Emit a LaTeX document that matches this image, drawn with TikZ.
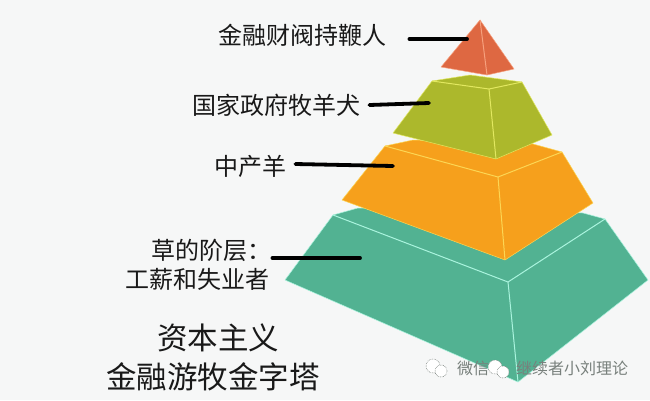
\documentclass[tikz,border=0pt]{standalone}
\usepackage{fontspec}
\setmainfont{Noto Sans CJK SC}
\definecolor{paperGrey}{RGB}{246,247,247}
\definecolor{tierRed}{RGB}{222,104,66}
\definecolor{edgeRed}{RGB}{246,160,125}
\definecolor{tierOlive}{RGB}{172,184,44}
\definecolor{edgeOlive}{RGB}{226,232,96}
\definecolor{tierOrange}{RGB}{246,160,28}
\definecolor{edgeOrange}{RGB}{252,214,84}
\definecolor{tierTeal}{RGB}{82,178,146}
\definecolor{edgeTeal}{RGB}{170,244,222}
\definecolor{markGrey}{RGB}{120,128,124}
\tikzset{
  lead/.style={line width=3.8pt,line cap=round,black},
  tag/.style={inner sep=0pt,anchor=west,font=\fontsize{24}{24}\selectfont,text=black!90},
  headline/.style={inner sep=0pt,anchor=west,font=\fontsize{30.5}{30.5}\selectfont,text=black!90},
  wmark/.style={inner sep=0pt,anchor=west,font=\fontsize{16}{16}\selectfont,text=markGrey},
  bubble/.style={draw=markGrey,fill=white,densely dotted,line width=0.6pt}
}
% #1 fill, #2 edge, #3 outline, #4 creases
\newcommand{\Tier}[4]{%
  \fill[#1,draw=#2,line width=0.5pt,line join=round] #3;
  \draw[#2,line width=1pt,line join=round] #4;
}
\begin{document}
\begin{tikzpicture}[x=1pt,y=-1pt]
\useasboundingbox (0,0) rectangle (650,400);
\fill[paperGrey] (0,0) rectangle (650,400);
% pyramid, from the bottom up
\Tier{tierTeal}{edgeTeal}{(333,215) -- (358,208) -- (583,213) -- (605,219) -- (648,280) -- (518,382) -- (285,280) -- cycle}{(333,215) -- (508,282) -- (605,219) (508,282) -- (518,382)}
\Tier{tierOrange}{edgeOrange}{(385,146) -- (413,140) -- (533,144) -- (562,152) -- (593,203) -- (505,260) -- (342,200) -- cycle}{(385,146) -- (498,177) -- (562,152) (498,177) -- (505,260)}
\Tier{tierOlive}{edgeOlive}{(432,81) -- (470,75) -- (522,82) -- (552,135) -- (496,159) -- (393,133) -- cycle}{(432,81) -- (489,89) -- (522,82) (489,89) -- (496,159)}
\Tier{tierRed}{edgeRed}{(480,20) -- (514,69) -- (487,75) -- (441,67) -- cycle}{(480,20) -- (487,75)}
% labels
\node[tag] (apexTag) at (218,35) {金融财阀持鞭人};
\node[tag] (dogTag) at (192,105) {国家政府牧羊犬};
\node[tag] (sheepTag) at (214,166) {中产羊};
\node[tag] (grassTag) at (151,250) {草的阶层：};
\node[tag] (workTag) at (125,279) {工薪和失业者};
\node[headline] (capTitle) at (157,338) {资本主义};
\node[headline] (nomadTitle) at (106,377) {金融游牧金字塔};
% leads
\coordinate (apexEnd) at (467,39);
\coordinate (dogEnd) at (429,103);
\coordinate (sheepEnd) at (393,166);
\coordinate (grassEnd) at (360,258);
\draw[lead] ([xshift=23pt,yshift=-4pt]apexTag.east) -- (apexEnd);
\draw[lead] ([xshift=9pt]dogTag.east) -- (dogEnd);
\draw[lead] ([xshift=9pt,yshift=2pt]sheepTag.east) -- (sheepEnd);
\draw[lead] ([xshift=1pt,yshift=-8pt]grassTag.east) -- (grassEnd);
% watermark
\draw[bubble] (433,366) circle (7);
\draw[bubble] (441,371) circle (6);
\draw[bubble] (495,367) circle (7);
\draw[bubble] (503,372) circle (6);
\node[wmark] (markLeft) at (457,368) {微信};
\node[wmark] (markRight) at (516,368) {继续者小刘理论};
\end{tikzpicture}
\end{document}
